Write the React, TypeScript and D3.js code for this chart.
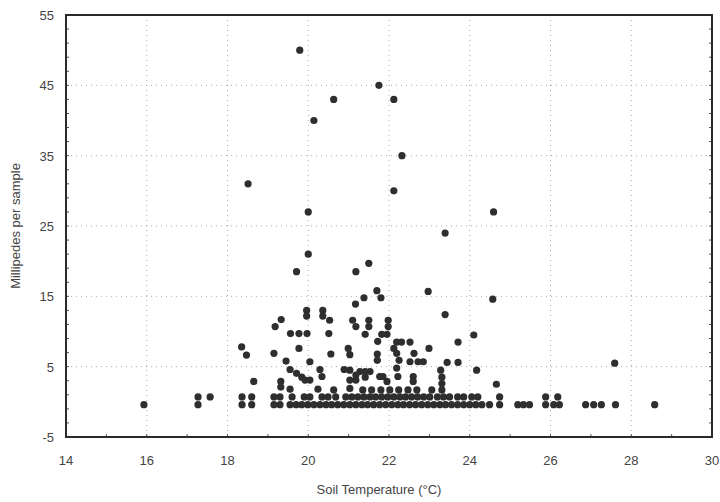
import React from "react";
import * as d3 from "d3";

const xTicks = [14, 16, 18, 20, 22, 24, 26, 28, 30];
const yTicks = [-5, 5, 15, 25, 35, 45, 55];

// scattered points (soil temperature °C, millipedes per sample)
const tempsUpper = [
  19.79, 21.75, 20.63, 22.12, 20.14, 22.32, 18.51, 22.12, 20.0, 24.59, 23.39, 20.0,
  19.71, 21.18, 21.5, 22.97, 24.57, 21.7, 21.8, 21.38, 21.17, 23.39, 19.96, 20.36,
  20.53, 19.33, 19.18, 21.1, 21.18, 21.5, 21.5, 21.98, 21.98, 19.96, 20.36,
];
const countsUpper = [
  50, 45, 43, 43, 40, 35, 31, 30, 27, 27, 24, 21,
  18.5, 18.5, 19.7, 15.7, 14.6, 15.8, 14.8, 14.8, 13.9, 12.4, 13, 13,
  11.6, 11.7, 10.7, 11.6, 10.7, 11.6, 10.7, 11.6, 10.7, 12.2, 12.2,
];

const tempsMid = [
  21.41, 21.82, 21.95, 21.72, 19.56, 19.77, 19.97, 20.51, 19.77, 19.15, 20.56, 20.99,
  21.03, 21.71, 21.71, 22.19, 22.31, 22.52, 22.12, 22.19, 22.25, 22.62, 22.52, 22.72,
  22.85, 22.99, 23.71, 24.1, 23.44, 23.71, 24.17, 24.66, 23.28, 23.31, 23.31, 18.35,
  18.47, 18.65, 27.59,
];
const countsMid = [
  9.6, 9.6, 9.6, 8.6, 9.7, 9.7, 9.7, 9.7, 7.6, 6.9, 6.8, 7.6,
  6.7, 6.8, 5.9, 8.5, 8.5, 8.5, 7.6, 6.9, 5.9, 6.9, 5.7, 5.7,
  5.7, 7.6, 8.5, 9.5, 5.6, 5.6, 4.5, 2.5, 4.5, 3.5, 2.6, 7.8,
  6.65, 2.9, 5.5,
];

const tempsLow = [
  19.45, 19.55, 20.04, 19.71, 19.84, 19.92, 20.29, 20.34, 20.04, 20.89, 21.03, 21.28,
  21.41, 21.53, 21.18, 21.18, 21.41, 21.03, 21.03, 21.77, 21.85, 21.95, 22.19, 22.22,
  22.6, 22.6, 20.24, 19.32, 19.32, 19.55, 20.63, 21.35, 21.57, 21.8, 22.02, 22.24,
  22.47, 22.69, 23.06, 23.31,
];
const countsLow = [
  5.8, 4.6, 5.7, 4.05, 3.5, 3.1, 4.6, 3.6, 3.1, 4.6, 4.5, 4.3,
  4.3, 4.3, 3.8, 3.1, 3.5, 3.1, 1.9, 3.6, 3.6, 2.9, 4.8, 3.6,
  3.6, 2.9, 1.8, 2.9, 2.1, 1.8, 1.7, 1.7, 1.7, 1.7, 1.7, 1.7,
  1.7, 1.7, 1.7, 1.7,
];

// samples with (near) zero millipedes, drawn as the dense bottom band
const tempsZero = [
  15.93, 17.27, 18.36, 18.6, 19.15, 19.3, 19.55, 19.7, 19.84, 19.99, 20.14, 20.29,
  20.44, 20.58, 20.73, 20.88, 21.03, 21.18, 21.33, 21.47, 21.62, 21.77, 21.92, 22.07,
  22.22, 22.36, 22.51, 22.66, 22.81, 22.96, 23.11, 23.26, 23.4, 23.55, 23.7, 23.85,
  24.0, 24.15, 24.3, 24.49, 24.74, 25.19, 25.33, 25.48, 25.88, 26.08, 26.22, 26.87,
  27.07, 27.26, 27.61, 28.58,
];
const countZero = -0.4;

const tempsOne = [
  17.27, 17.57, 18.36, 18.6, 19.15, 19.3, 19.6, 19.9, 20.04, 20.34, 20.49, 20.68,
  20.93, 21.08, 21.23, 21.38, 21.53, 21.67, 21.82, 21.97, 22.12, 22.27, 22.41, 22.56,
  22.71, 22.86, 23.01, 23.2, 23.35, 23.5, 23.7, 23.85, 24.05, 24.2, 24.74, 25.88,
  26.18,
];
const countOne = 0.7;

const W = 720;
const H = 502;
const left = 66;
const right = 712;
const top = 15;
const bottom = 437;

export default function App() {
  const x = d3.scaleLinear().domain([14, 30]).range([left, right]);
  const y = d3.scaleLinear().domain([-5, 55]).range([bottom, top]);

  const pts: [number, number][] = [];
  tempsUpper.forEach((t, i) => pts.push([t, countsUpper[i]]));
  tempsMid.forEach((t, i) => pts.push([t, countsMid[i]]));
  tempsLow.forEach((t, i) => pts.push([t, countsLow[i]]));
  tempsZero.forEach((t) => pts.push([t, countZero]));
  tempsOne.forEach((t) => pts.push([t, countOne]));

  const minorY = d3.range(-5, 55.01, 2);
  const minorX = d3.range(14, 30.01, 1);
  const font = "'Liberation Sans', Arial, sans-serif";

  return (
    <div style={{ position: "fixed", left: 0, top: 0 }}>
      <svg width={W} height={H} style={{ display: "block", background: "#fff" }}>
        {/* grid */}
        {xTicks.slice(1, -1).map((t) => (
          <line key={"gx" + t} x1={x(t)} x2={x(t)} y1={top} y2={bottom}
            stroke="#aaa" strokeWidth={1} strokeDasharray="1,4" />
        ))}
        {yTicks.slice(1, -1).map((t) => (
          <line key={"gy" + t} x1={left} x2={right} y1={y(t)} y2={y(t)}
            stroke="#aaa" strokeWidth={1} strokeDasharray="1,4" />
        ))}
        {/* minor ticks */}
        {minorY.map((t) => (
          <line key={"my" + t} x1={left} x2={left + 3} y1={y(t)} y2={y(t)} stroke="#555" strokeWidth={1} />
        ))}
        {minorY.map((t) => (
          <line key={"myr" + t} x1={right - 3} x2={right} y1={y(t)} y2={y(t)} stroke="#555" strokeWidth={1} />
        ))}
        {minorX.map((t) => (
          <line key={"mx" + t} x1={x(t)} x2={x(t)} y1={bottom - 3} y2={bottom} stroke="#555" strokeWidth={1} />
        ))}
        {/* points */}
        {pts.map((p, i) => (
          <circle key={"p" + i} cx={x(p[0])} cy={y(p[1])} r={3.6} fill="#2e2e2e" />
        ))}
        {/* frame */}
        <rect x={left} y={top} width={right - left} height={bottom - top}
          fill="none" stroke="#2a2a2a" strokeWidth={2} />
        {/* tick labels */}
        {xTicks.map((t) => (
          <text key={"tx" + t} x={x(t)} y={bottom + 28} textAnchor="middle"
            fontFamily={font} fontSize={13} fill="#444">{t}</text>
        ))}
        {yTicks.map((t) => (
          <text key={"ty" + t} x={left - 12} y={y(t) + 5} textAnchor="end"
            fontFamily={font} fontSize={13} fill="#444">{t}</text>
        ))}
        {/* axis titles */}
        <text x={(left + right) / 2 - 10} y={494} textAnchor="middle"
          fontFamily={font} fontSize={13} fill="#444">Soil Temperature (°C)</text>
        <text transform={`translate(20, ${(top + bottom) / 2}) rotate(-90)`} textAnchor="middle"
          fontFamily={font} fontSize={13} fill="#444">Millipedes per sample</text>
      </svg>
    </div>
  );
}
